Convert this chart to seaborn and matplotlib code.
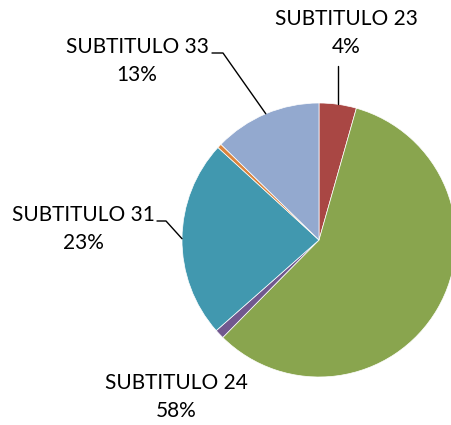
import numpy as np
import matplotlib
matplotlib.use("Agg")
import matplotlib.pyplot as plt
import seaborn as sns

# slice data, clockwise from 12 o'clock
labels = ["SUBTITULO 23", "SUBTITULO 24", "", "SUBTITULO 31", "", "SUBTITULO 33"]
values = [4.4, 58.0, 1.1, 23.3, 0.5, 12.7]
colors = ["#A94744", "#89A54E", "#71588F", "#4198AF", "#DB843D", "#93A9CF"]

# label text positions (pixels, top-left origin) and whether a leader line is drawn
label_pos = {"SUBTITULO 23": (346, 33), "SUBTITULO 24": (176, 397),
             "SUBTITULO 31": (83, 229), "SUBTITULO 33": (137, 61)}
leader_elbow = {"SUBTITULO 23": None, "SUBTITULO 33": (212, 223),
                "SUBTITULO 31": (157, 166)}

sns.set_style("white")
plt.rcParams["font.family"] = ["Lato", "DejaVu Sans"]

W, H = 452, 425
fig = plt.figure(figsize=(W / 100, H / 100), dpi=100)
ax = fig.add_axes([0, 0, 1, 1])

cx, cy, r = 319, H - 240, 137
wedges, _ = ax.pie(values, colors=colors, startangle=90, counterclock=False,
                   center=(cx, cy), radius=r,
                   wedgeprops=dict(linewidth=0.5, edgecolor="white"))
ax.set_xlim(0, W)
ax.set_ylim(0, H)
ax.set_aspect("equal")
ax.axis("off")

total = sum(values)
for w, lab, v in zip(wedges, labels, values):
    if not lab:
        continue
    tx, ty = label_pos[lab]
    ax.text(tx, H - ty, f"{lab}\n{round(v / total * 100):.0f}%", ha="center",
            va="center", fontsize=15, color="black", linespacing=1.45)
    if lab in leader_elbow:
        mid = np.deg2rad((w.theta1 + w.theta2) / 2)
        ex, ey = cx + r * np.cos(mid), cy + r * np.sin(mid)
        elb = leader_elbow[lab]
        if elb is None:
            ax.plot([ex, ex], [ey, H - 66], color="black", lw=1)
        else:
            x0, x1 = elb
            ly = H - label_pos[lab][1] + 8
            ax.plot([x0, x1, ex], [ly, ly, ey], color="black", lw=1)

fig.savefig("out.png", dpi=100)
